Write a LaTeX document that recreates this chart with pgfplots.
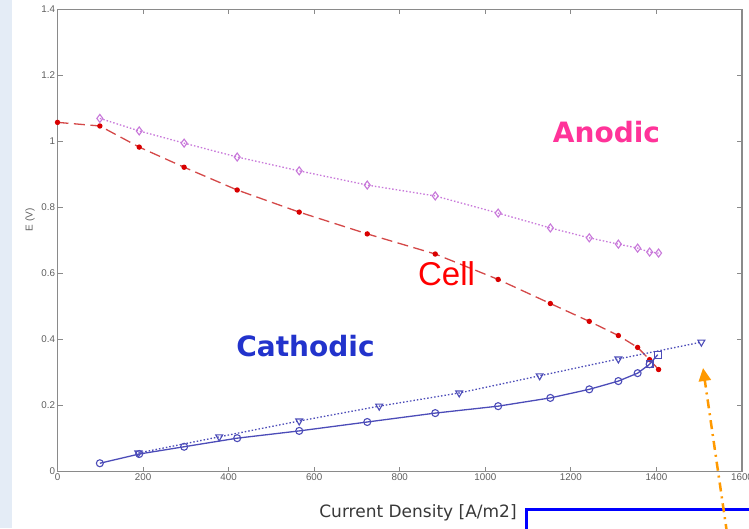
\documentclass[border=0pt]{standalone}
\usepackage{pgfplots}
\pgfplotsset{compat=1.18}
\usepackage{fontspec}
\setmainfont{DejaVu Sans}
\newfontfamily\lib{Liberation Sans}
\newfontfamily\djb{DejaVu Sans}
\usetikzlibrary{arrows.meta}
\definecolor{bgblue}{HTML}{E4ECF6}
\definecolor{axgray}{HTML}{8A8A8A}
\definecolor{tickgray}{HTML}{5E5E5E}
\definecolor{cellred}{HTML}{D44848}
\definecolor{anodic}{HTML}{C878DA}
\definecolor{cath}{HTML}{4C4CB8}
\definecolor{anodictxt}{HTML}{FF3399}
\definecolor{cathtxt}{HTML}{2233CC}
\definecolor{arroworange}{HTML}{FF9900}
\begin{document}
\begin{tikzpicture}
\useasboundingbox (0pt,0pt) rectangle (749pt,528pt);
\fill[bgblue] (0pt,0pt) rectangle (12pt,528pt);
\begin{axis}[
  at={(57.5pt,56.5pt)}, anchor=south west,
  width=684.5pt, height=462pt, scale only axis,
  xmin=0, xmax=1600, ymin=0, ymax=1.4,
  xtick={0,200,400,600,800,1000,1200,1400,1600},
  ytick={0,0.2,0.4,0.6,0.8,1,1.2,1.4},
  tick align=inside, major tick length=5pt,
  axis line style={axgray, line width=1.5pt},
  every tick/.style={axgray, line width=1.1pt},
  /pgf/number format/1000 sep={},
  /pgf/number format/assume math mode=true,
  ticklabel style={font=\lib\fontsize{9.8}{10}\selectfont, text=tickgray},
  xticklabel style={yshift=1pt},
  yticklabel style={xshift=1pt},
  clip=false,
]
% Cell
\addplot[cellred, line width=1.3pt, dash pattern=on 11pt off 5.5pt,
  mark=*, mark size=2pt, mark options={solid, fill=red!85!black, draw=red!85!black}]
 coordinates {(0,1.058) (99,1.047) (191,0.983) (296,0.922) (420,0.853) (565,0.786)
 (724,0.720) (883,0.659) (1030,0.582) (1152,0.509) (1243,0.455) (1311,0.412)
 (1356,0.376) (1384,0.339) (1405,0.309)};
% Anodic
\addplot[anodic, line width=1.3pt, dash pattern=on 1.5pt off 2pt,
  mark=diamond, mark size=4pt, mark options={solid, line width=1.1pt}]
 coordinates {(99,1.070) (191,1.032) (296,0.995) (420,0.953) (565,0.911) (724,0.868)
 (883,0.835) (1030,0.783) (1152,0.738) (1243,0.708) (1311,0.689) (1356,0.677)
 (1384,0.665) (1405,0.662)};
% Cathodic (solid)
\addplot[cath, line width=1.3pt, mark=o, mark size=3.5pt,
  mark options={solid, line width=1.1pt}]
 coordinates {(99,0.025) (191,0.053) (296,0.075) (420,0.101) (565,0.123) (724,0.150)
 (883,0.177) (1030,0.198) (1152,0.223) (1243,0.249) (1311,0.274) (1356,0.298)
 (1384,0.325)};
\addplot[cath, line width=1.3pt, mark=square, mark size=3.4pt,
  mark options={solid, line width=1.1pt, draw=cath}]
 coordinates {(1384,0.325) (1403,0.354)};
% Cathodic (dotted)
\addplot[cath, line width=1.3pt, dash pattern=on 1.5pt off 2pt,
  mark=triangle, mark size=4pt,
  mark options={solid, line width=1.1pt, rotate=180}]
 coordinates {(189,0.056) (378,0.105) (565,0.153) (752,0.198) (939,0.238)
 (1127,0.290) (1311,0.341) (1505,0.392)};
\end{axis}
% labels
\node[font=\lib\fontsize{10}{10}\selectfont, text=tickgray, rotate=90] at (30pt,308pt) {E (V)};
\node[font=\fontsize{17}{19}\selectfont, text=black!78] at (418pt,15pt) {Current Density [A/m2]};
\node[anchor=base, font=\djb\bfseries\fontsize{28}{30}\selectfont, text=anodictxt] at (606.5pt,385pt) {Anodic};
\node[anchor=base, font=\djb\bfseries\fontsize{28}{30}\selectfont, text=cathtxt] at (305.5pt,172pt) {Cathodic};
\node[anchor=base, font=\lib\fontsize{33}{35}\selectfont, text=red] at (446.5pt,243pt) {Cell};
% blue box and arrow
\draw[blue, line width=3pt] (526.5pt,-20pt) -- (526.5pt,18.5pt) -- (780pt,18.5pt);
\draw[arroworange, line width=2.5pt, dash pattern=on 9pt off 5pt on 2pt off 5pt,
  -{Triangle[length=13pt,width=12pt]}] (727pt,-5pt) -- (703pt,160pt);
\end{tikzpicture}
\end{document}
